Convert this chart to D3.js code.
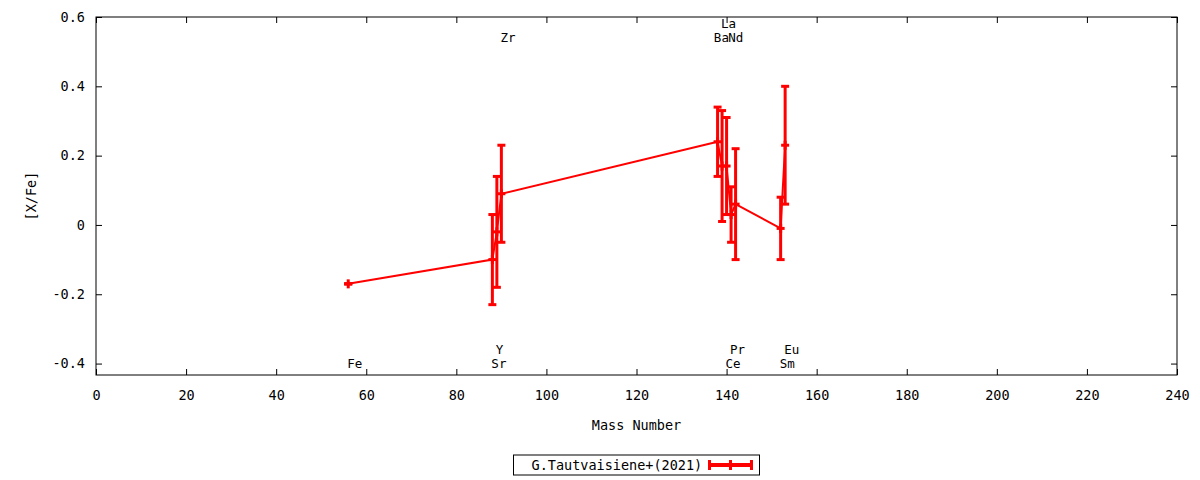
<!DOCTYPE html>
<html>
<head>
<meta charset="utf-8">
<script src="https://cdn.jsdelivr.net/npm/d3@7"></script>
<style>
  body { margin: 0; background: #fff; }
  text { font-family: "DejaVu Sans Mono", monospace; font-size: 13.5px; fill: #000; }
</style>
</head>
<body>
<div id="chart"></div>
<script>
// element data
var elements = ["Fe", "Sr", "Y", "Zr", "Ba", "La", "Ce", "Pr", "Nd", "Sm", "Eu"];
var massNumbers = [56, 88, 89, 90, 138, 139, 140, 141, 142, 152, 153];
var abundances = [-0.17, -0.10, -0.02, 0.09, 0.24, 0.17, 0.17, 0.03, 0.06, -0.01, 0.23];
var errors = [0, 0.13, 0.16, 0.14, 0.10, 0.16, 0.14, 0.08, 0.16, 0.09, 0.17];
// where the element names sit (data units)
var labelX = [56, 88, 89, 90, 137.4, 139, 140, 141, 140.6, 152, 153];
var labelY = [-0.40, -0.40, -0.36, 0.54, 0.54, 0.58, -0.40, -0.36, 0.54, -0.40, -0.36];

var xTicks = [0, 20, 40, 60, 80, 100, 120, 140, 160, 180, 200, 220, 240];
var yTicks = [-0.4, -0.2, 0, 0.2, 0.4, 0.6];
var seriesName = "G.Tautvaisiene+(2021)";

var margin = {top: 17, right: 23, bottom: 105, left: 96},
    width = 1200 - margin.left - margin.right,
    height = 480 - margin.top - margin.bottom;

var svg = d3.select("#chart")
  .append("svg")
    .attr("width", 1200)
    .attr("height", 480)
  .append("g")
    .attr("transform", "translate(" + margin.left + "," + margin.top + ")");

var x = d3.scaleLinear().domain([0, 240]).range([0, width]);
var y = d3.scaleLinear().domain([-0.433, 0.6]).range([height, 0]);

var yFormat = function(d) { return d === 0 ? "0" : d.toFixed(1); };

// axes, gnuplot style: inward ticks mirrored on all four sides
svg.append("g")
  .attr("transform", "translate(0," + height + ")")
  .call(d3.axisBottom(x).tickValues(xTicks).tickSizeInner(-6).tickSizeOuter(0).tickPadding(15));
svg.append("g")
  .call(d3.axisTop(x).tickValues(xTicks).tickSizeInner(-6).tickSizeOuter(0).tickFormat(""));
svg.append("g")
  .call(d3.axisLeft(y).tickValues(yTicks).tickFormat(yFormat).tickSizeInner(-6).tickSizeOuter(0).tickPadding(11));
svg.append("g")
  .attr("transform", "translate(" + width + ",0)")
  .call(d3.axisRight(y).tickValues(yTicks).tickSizeInner(-6).tickSizeOuter(0).tickFormat(""));

svg.selectAll(".domain").remove();
svg.selectAll(".tick line").attr("stroke", "#000");
svg.selectAll(".tick text").style("font-family", "DejaVu Sans Mono").style("font-size", "13.5px");

// plot border
svg.append("rect")
  .attr("width", width)
  .attr("height", height)
  .attr("fill", "none")
  .attr("stroke", "#000")
  .attr("stroke-width", 1);

// axis titles
svg.append("text")
  .attr("x", width / 2)
  .attr("y", 430 - margin.top)
  .attr("text-anchor", "middle")
  .text("Mass Number");

svg.append("text")
  .attr("transform", "translate(" + (36 - margin.left) + "," + (196 - margin.top) + ") rotate(-90)")
  .attr("text-anchor", "middle")
  .text("[X/Fe]");

var data = elements.map(function(e, i) {
  return {el: e, A: massNumbers[i], v: abundances[i], err: errors[i], lx: labelX[i], ly: labelY[i]};
});

// connecting line
var line = d3.line()
  .x(function(d) { return x(d.A); })
  .y(function(d) { return y(d.v); });

svg.append("path")
  .datum(data)
  .attr("d", line)
  .attr("fill", "none")
  .attr("stroke", "#ff0000")
  .attr("stroke-width", 2);

// error bars with caps
var bars = svg.selectAll(".ebar")
  .data(data)
  .enter()
  .append("g")
  .attr("class", "ebar")
  .attr("stroke", "#ff0000");

bars.append("line")
  .attr("x1", function(d) { return x(d.A); })
  .attr("x2", function(d) { return x(d.A); })
  .attr("y1", function(d) { return y(d.v + d.err); })
  .attr("y2", function(d) { return y(d.v - d.err); })
  .attr("stroke-width", 3);

[1, -1].forEach(function(s) {
  bars.append("line")
    .attr("x1", function(d) { return x(d.A) - 4; })
    .attr("x2", function(d) { return x(d.A) + 4; })
    .attr("y1", function(d) { return y(d.v + s * d.err); })
    .attr("y2", function(d) { return y(d.v + s * d.err); })
    .attr("stroke-width", 3);
});

// '+' point marker
bars.append("line")
  .attr("x1", function(d) { return x(d.A) - 4; })
  .attr("x2", function(d) { return x(d.A) + 4; })
  .attr("y1", function(d) { return y(d.v); })
  .attr("y2", function(d) { return y(d.v); })
  .attr("stroke-width", 3);
bars.append("line")
  .attr("x1", function(d) { return x(d.A); })
  .attr("x2", function(d) { return x(d.A); })
  .attr("y1", function(d) { return y(d.v) - 4.5; })
  .attr("y2", function(d) { return y(d.v) + 4.5; })
  .attr("stroke-width", 3);

// element names
svg.selectAll(".elabel")
  .data(data)
  .enter()
  .append("text")
  .attr("class", "elabel")
  .attr("x", function(d) { return x(d.lx) - 1; })
  .attr("y", function(d) { return y(d.ly); })
  .attr("dy", "0.35em")
  .style("font-size", "12.5px")
  .text(function(d) { return d.el; });

// legend
var legend = svg.append("g")
  .attr("transform", "translate(" + (513.5 - margin.left) + "," + (455 - margin.top) + ")");

legend.append("rect")
  .attr("width", 246)
  .attr("height", 20)
  .attr("fill", "none")
  .attr("stroke", "#000");

legend.append("text")
  .attr("x", 18)
  .attr("y", 10)
  .attr("dy", "0.35em")
  .text(seriesName);

legend.append("line")
  .attr("x1", 196).attr("x2", 238)
  .attr("y1", 10).attr("y2", 10)
  .attr("stroke", "#ff0000")
  .attr("stroke-width", 4);

[196, 217, 238].forEach(function(px) {
  legend.append("line")
    .attr("x1", px).attr("x2", px)
    .attr("y1", 5).attr("y2", 15)
    .attr("stroke", "#ff0000")
    .attr("stroke-width", 3);
});
</script>
</body>
</html>
